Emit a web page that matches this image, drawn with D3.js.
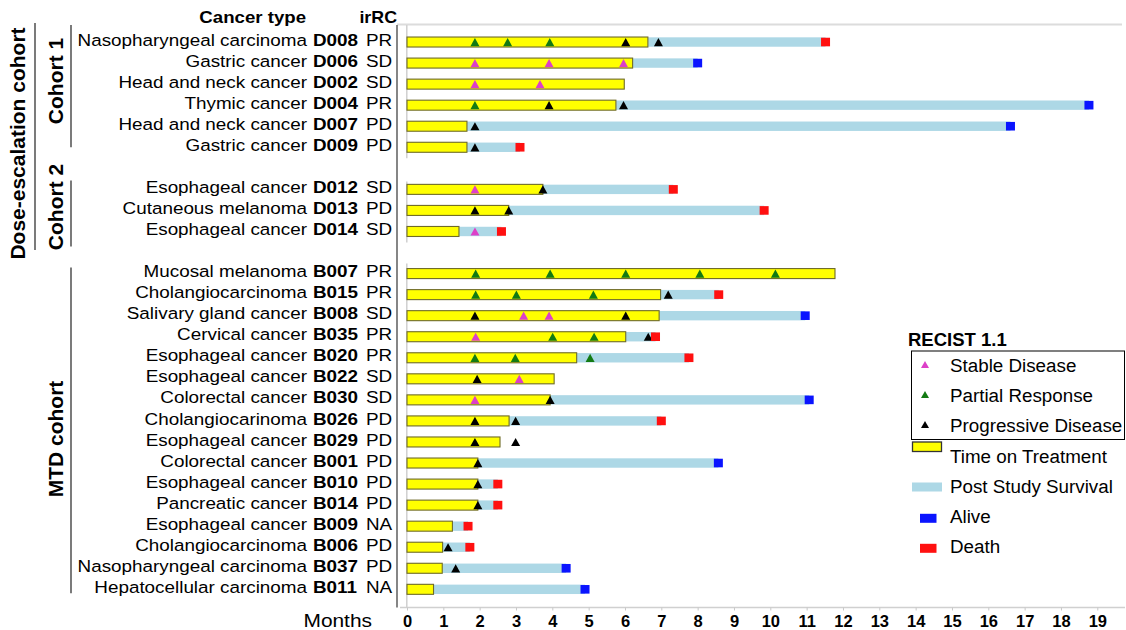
<!DOCTYPE html>
<html><head><meta charset="utf-8">
<script src="https://cdn.jsdelivr.net/npm/d3@7"></script>
<style>body{margin:0;background:#fff} svg{display:block} text{font-family:"Liberation Sans",Arial,Helvetica,sans-serif;fill:#000}</style>
</head><body>
<svg id="chart" width="1126" height="630"></svg>
<script>
// ---------------- DATA ----------------
const patientIds = ["D008","D006","D002","D004","D007","D009","D012","D013","D014",
  "B007","B015","B008","B035","B020","B022","B030","B026","B029","B001","B010","B014","B009","B006","B037","B011"];
const cancerTypes = ["Nasopharyngeal carcinoma","Gastric cancer","Head and neck cancer","Thymic cancer","Head and neck cancer","Gastric cancer",
  "Esophageal cancer","Cutaneous melanoma","Esophageal cancer",
  "Mucosal melanoma","Cholangiocarcinoma","Salivary gland cancer","Cervical cancer","Esophageal cancer","Esophageal cancer","Colorectal cancer",
  "Cholangiocarinoma","Esophageal cancer","Colorectal cancer","Esophageal cancer","Pancreatic cancer","Esophageal cancer","Cholangiocarcinoma",
  "Nasopharyngeal carcinoma","Hepatocellular carcinoma"];
const irRC = ["PR","SD","SD","PR","PD","PD","SD","PD","SD",
  "PR","PR","SD","PR","PR","SD","SD","PD","PD","PD","PD","PD","NA","PD","PD","NA"];
const cohorts = ["Cohort 1","Cohort 1","Cohort 1","Cohort 1","Cohort 1","Cohort 1","Cohort 2","Cohort 2","Cohort 2",
  "MTD cohort","MTD cohort","MTD cohort","MTD cohort","MTD cohort","MTD cohort","MTD cohort","MTD cohort","MTD cohort",
  "MTD cohort","MTD cohort","MTD cohort","MTD cohort","MTD cohort","MTD cohort","MTD cohort"];
const treatmentMonths = [6.63,6.21,5.98,5.75,1.65,1.65,3.74,2.80,1.43,
  11.78,6.98,6.94,6.02,4.67,4.05,3.94,2.81,2.56,1.95,1.95,1.95,1.25,0.98,0.97,0.73];
const survivalMonths = [11.52,8.00,null,18.77,16.61,3.11,7.33,9.83,2.60,
  null,8.58,10.96,6.84,7.76,null,11.07,7.00,null,8.57,2.50,2.50,1.68,1.73,4.38,4.90];
const outcome = ["Death","Alive",null,"Alive","Alive","Death","Death","Death","Death",
  null,"Death","Alive","Death","Death",null,"Alive","Death",null,"Alive","Death","Death","Death","Death","Alive","Alive"];
const sdMonths = [[],[1.87,3.91,5.96],[1.87,3.66],[],[],[],[1.87],[],[1.87],
  [],[],[3.21,3.91],[1.89],[],[3.09],[1.87],[],[],[],[],[],[],[],[],[]];
const prMonths = [[1.87,2.77,3.93],[],[],[1.87],[],[],[],[],[],
  [1.89,3.94,6.02,8.06,10.14],[1.89,3.01,5.13],[],[4.01,5.15],[1.87,2.98,5.04],[],[],[],[],[],[],[],[],[],[],[]];
const pdMonths = [[6.02,6.92],[],[],[3.91,5.96],[1.87],[1.87],[3.74],[1.87,2.80],[],
  [],[7.19],[1.87,6.02],[6.64],[],[1.93],[3.94],[1.87,2.99],[1.87,2.99],[1.95],[1.95],[1.95],[],[1.13],[1.34],[]];
const monthTicks = [0,1,2,3,4,5,6,7,8,9,10,11,12,13,14,15,16,17,18,19];
const assessmentNames = ["Stable Disease","Partial Response","Progressive Disease"];
const outcomeNames = ["Alive","Death"];

// ---------------- STYLE ----------------
const COL = {sd:"#dc3fc8", pr:"#137a13", pd:"#000000", yellow:"#ffff00", yellowStroke:"#6f6b28",
  blue:"#add8e6", alive:"#0a14ff", death:"#ff1010"};
const FONT = '"Liberation Sans",Arial,Helvetica,sans-serif';

const svg = d3.select("#chart");

// rows with spacer rows between cohorts
const rowKeys = [];
patientIds.forEach((id,i)=>{
  if(i>0 && cohorts[i]!==cohorts[i-1]) rowKeys.push("gap"+i);
  rowKeys.push(id);
});
const x = d3.scaleLinear().domain([0,19]).range([407,1097.3]);
const y = d3.scaleBand().domain(rowKeys).range([31.5, 31.5+rowKeys.length*21.05]);
const cy = k => y(k)+y.bandwidth()/2;
const axisY = 607.5;

// frame lines
svg.append("line").attr("x1",397).attr("x2",1122).attr("y1",24.5).attr("y2",24.5)
  .attr("stroke","#dcdcdc").attr("stroke-width",2);
svg.append("line").attr("x1",400).attr("x2",1125).attr("y1",axisY).attr("y2",axisY)
  .attr("stroke","#d0d0d0").attr("stroke-width",1.5);

// panel left lines (light grey)
const cohortNames = ["Cohort 1","Cohort 2","MTD cohort"];
const groupRows = cohortNames.map(c=>patientIds.filter((id,i)=>cohorts[i]===c));
const panelExt = [
  [25, cy(groupRows[0][5])+11],
  [cy(groupRows[1][0])-8, cy(groupRows[1][2])+11],
  [cy(groupRows[2][0])-10, axisY]
];
panelExt.forEach(([a,b])=>{
  svg.append("line").attr("x1",406.8).attr("x2",406.8).attr("y1",a).attr("y2",b)
    .attr("stroke","#cfcfcf").attr("stroke-width",1.5);
});
// dark separator
svg.append("line").attr("x1",397).attr("x2",397).attr("y1",25).attr("y2",axisY)
  .attr("stroke","#444").attr("stroke-width",1.3);

// axis
const ax = svg.append("g").attr("transform",`translate(0,${axisY})`)
  .call(d3.axisBottom(x).tickValues(monthTicks).tickFormat(d3.format("d")).tickSize(3).tickPadding(5));
ax.select(".domain").remove();
ax.selectAll(".tick line").attr("stroke","#c8c8c8");
ax.selectAll(".tick text").attr("font-family",FONT).attr("font-size",16.5).attr("font-weight","bold").attr("fill","#000");
svg.append("text").attr("text-anchor","end")
  .attr("font-size",19).attr("transform","translate(372,627) scale(1.1,1)").text("Months");

// bars
const idx = d3.range(patientIds.length);
svg.append("g").selectAll("rect").data(idx.filter(i=>survivalMonths[i]!=null)).join("rect")
  .attr("x",i=>x(treatmentMonths[i])).attr("width",i=>x(survivalMonths[i])-x(treatmentMonths[i]))
  .attr("y",i=>cy(patientIds[i])-4.7).attr("height",9.4).attr("fill",COL.blue);
svg.append("g").selectAll("rect").data(idx).join("rect")
  .attr("x",x(0)).attr("width",i=>x(treatmentMonths[i])-x(0))
  .attr("y",i=>cy(patientIds[i])-5).attr("height",10)
  .attr("fill",COL.yellow).attr("stroke",COL.yellowStroke).attr("stroke-width",1.1);

// triangles
const tri = (px,py,w,h)=>`M${px-w},${py+h}L${px+w},${py+h}L${px},${py-h}Z`;
const marks = [];
idx.forEach(i=>{
  sdMonths[i].forEach(m=>marks.push({m,i,c:COL.sd}));
  prMonths[i].forEach(m=>marks.push({m,i,c:COL.pr}));
  pdMonths[i].forEach(m=>marks.push({m,i,c:COL.pd}));
});
svg.append("g").selectAll("path").data(marks).join("path")
  .attr("d",d=>tri(x(d.m),cy(patientIds[d.i]),4.5,4.1)).attr("fill",d=>d.c);

// outcome squares
svg.append("g").selectAll("rect").data(idx.filter(i=>outcome[i])).join("rect")
  .attr("x",i=>x(survivalMonths[i])-4.5).attr("y",i=>cy(patientIds[i])-4.3)
  .attr("width",9).attr("height",8.6)
  .attr("fill",i=>outcome[i]==="Alive"?COL.alive:COL.death);

// row labels
const lab = svg.append("g");
const sx = 1.11;
idx.forEach(i=>{
  const yy = cy(patientIds[i])+3.6;
  lab.append("text").attr("text-anchor","end").attr("font-size",17)
    .attr("transform",`translate(307,${yy}) scale(${sx},1)`).text(cancerTypes[i]);
  lab.append("text").attr("font-size",17).attr("font-weight","bold")
    .attr("transform",`translate(313,${yy}) scale(${sx},1)`).text(patientIds[i]);
  lab.append("text").attr("font-size",17)
    .attr("transform",`translate(366,${yy}) scale(${sx},1)`).text(irRC[i]);
});
// headers
svg.append("text").attr("text-anchor","end").attr("font-size",16.5).attr("font-weight","bold")
  .attr("transform","translate(306,23) scale(1.13,1)").text("Cancer type");
svg.append("text").attr("text-anchor","end").attr("font-size",16.5).attr("font-weight","bold")
  .attr("transform","translate(397,23) scale(1.08,1)").text("irRC");

// cohort brackets and labels
const brackets = [
  {label:"Cohort 1", x:71, tx:63, y1:25, y2:cy(groupRows[0][5])},
  {label:"Cohort 2", x:71, tx:63, y1:cy(groupRows[1][0])-9, y2:cy(groupRows[1][2])+15},
  {label:"MTD cohort", x:71, tx:63, y1:cy(groupRows[2][0])-6, y2:cy(groupRows[2][15])+4},
  {label:"Dose-escalation cohort", x:35, tx:24.5, y1:23, y2:250}
];
const tmid = {"Cohort 1":81,"Cohort 2":207,"MTD cohort":439,"Dose-escalation cohort":143.5};
brackets.forEach(b=>{
  svg.append("line").attr("x1",b.x).attr("x2",b.x).attr("y1",b.y1).attr("y2",b.y2)
    .attr("stroke","#222").attr("stroke-width",1.2);
  svg.append("text").attr("text-anchor","middle").attr("font-size",21).attr("font-weight","bold")
    .attr("transform",`translate(${b.tx},${tmid[b.label]}) rotate(-90)`).text(b.label);
});

// legend
const lg = svg.append("g");
lg.append("text").attr("x",908).attr("y",346).attr("font-size",18.5).attr("font-weight","bold").text("RECIST 1.1");
lg.append("rect").attr("x",911.5).attr("y",351).attr("width",213).attr("height",88.5)
  .attr("fill","none").attr("stroke","#000").attr("stroke-width",1);
const assessCols = [COL.sd, COL.pr, COL.pd];
const aBase = [372, 402, 432];
assessmentNames.forEach((n,k)=>{
  lg.append("path").attr("d",tri(925,aBase[k]-7.5,4,3.6)).attr("fill",assessCols[k]);
  lg.append("text").attr("x",950).attr("y",aBase[k]).attr("font-size",18.8).text(n);
});
lg.append("rect").attr("x",912.5).attr("y",442).attr("width",29).attr("height",9.5)
  .attr("fill",COL.yellow).attr("stroke","#333").attr("stroke-width",1.3);
lg.append("text").attr("x",950).attr("y",462.5).attr("font-size",18.8).text("Time on Treatment");
lg.append("rect").attr("x",912).attr("y",482.5).attr("width",30).attr("height",9).attr("fill",COL.blue);
lg.append("text").attr("x",950).attr("y",493.3).attr("font-size",18.8).text("Post Study Survival");
const oBase = [523.3, 553.3];
outcomeNames.forEach((n,k)=>{
  lg.append("rect").attr("x",920).attr("y",oBase[k]-9.5).attr("width",16.5).attr("height",9)
    .attr("fill",n==="Alive"?COL.alive:COL.death);
  lg.append("text").attr("x",950).attr("y",oBase[k]).attr("font-size",18.8).text(n);
});
</script>
</body></html>
